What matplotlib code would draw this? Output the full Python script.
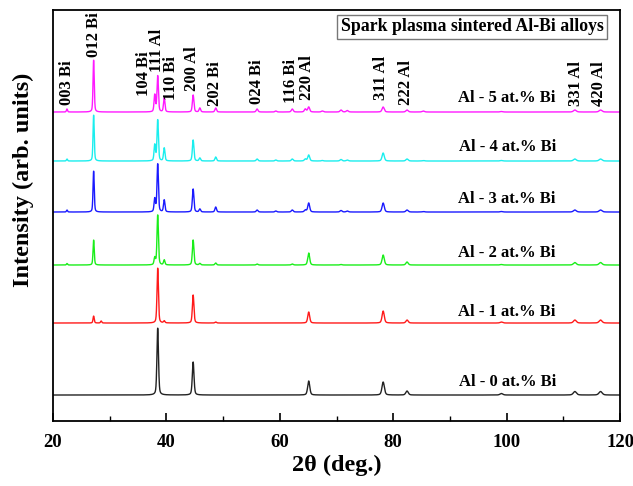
import numpy as np
import matplotlib
matplotlib.use("Agg")
import matplotlib.pyplot as plt

plt.rcParams['font.family'] = ['Liberation Serif', 'DejaVu Serif']
plt.rcParams['font.weight'] = 'bold'

# Reflection positions (2theta, deg)
peak_pos = [22.47, 27.17, 28.5, 37.95, 38.47, 39.62, 44.72, 45.9, 48.7, 56.0, 59.3,
            62.2, 64.5, 65.1, 67.5, 70.8, 71.9, 78.23, 82.44, 85.3, 99.08, 112.04, 116.57]

# Peak heights (arb. units) for each composition, same order as peak_pos
h_0at = [0, 0, 0, 0, 67, 0, 33, 0, 0, 0, 0, 0, 0, 14, 0, 0, 0, 13, 4, 0, 1.5, 3.5, 3.5]
h_1at = [0, 7, 2, 0, 55, 2, 28, 0, 1, 0, 0, 0, 0, 11, 0, 0, 0, 12, 3, 0, 1, 3, 3]
h_2at = [1.5, 25, 0, 7, 50, 5, 25, 1.5, 2, 1, 0, 1, 0, 12, 0, 0.5, 0, 10, 3, 0, 0.5, 2.5, 2.5]
h_3at = [2, 41, 0, 13, 48, 12, 23, 3, 5, 2, 1, 2, 2, 9, 0, 1.5, 1, 9, 2, 0.5, 0.5, 2, 2]
h_4at = [2, 46, 0, 16, 41, 13, 21, 3, 4, 2, 1, 2, 2, 6, 0.5, 1.5, 1, 8, 2, 0.5, 0.5, 2, 2]
h_5at = [3, 52, 0, 17, 36, 14, 17, 4, 4, 3, 1, 3, 3, 5, 1, 2, 1.5, 5, 2, 1, 0.5, 2, 2]

heights = [h_0at, h_1at, h_2at, h_3at, h_4at, h_5at]
offsets = [26, 98, 156, 209, 260, 309]
series_labels = ['Al - 0 at.% Bi', 'Al - 1 at.% Bi', 'Al - 2 at.% Bi',
                 'Al - 3 at.% Bi', 'Al - 4 at.% Bi', 'Al - 5 at.% Bi']
colors = ['#222222', '#ff1a1a', '#1aee1a', '#1a1aff', '#1aeeee', '#ff1aff']
label_lift = [13, 11, 12, 13, 14, 14]
width_scale = [1.1, 1, 1, 1, 1, 1]

# Reflection annotations: text, 2theta of label, bottom of label (arb. units)
ann_text = ['003 Bi', '012 Bi', '104 Bi', '111 Al', '110 Bi', '200 Al', '202 Bi',
            '024 Bi', '116 Bi', '220 Al', '311 Al', '222 Al', '331 Al', '420 Al']
ann_x = [22.4, 27.3, 36.0, 38.3, 40.8, 44.5, 48.6, 56.0, 62.0, 64.8, 77.9, 82.3, 112.2, 116.3]
ann_y = [316, 364, 325, 349, 321, 330, 315, 317, 318, 321, 321, 316, 315, 315]


def pattern(x, hs, wscale=1.0):
    y = np.zeros_like(x)
    for p, h in zip(peak_pos, hs):
        if h <= 0:
            continue
        w = (0.22 + 0.004 * (p - 20)) * wscale
        g = np.exp(-4 * np.log(2) * ((x - p) / w) ** 2)
        lor = 1.0 / (1.0 + 4 * ((x - p) / w) ** 2)
        y += h * (0.6 * g + 0.4 * lor)
    return y


x = np.arange(20, 120.001, 0.02)

fig = plt.figure(figsize=(6.33, 4.86), dpi=100)
ax = fig.add_axes([0.0837, 0.1337, 0.8958, 0.8457])

for hs, off, col, lab, lift, ws in zip(heights, offsets, colors, series_labels,
                                      label_lift, width_scale):
    ax.plot(x, off + pattern(x, hs, ws), color=col, lw=1.0)
    ax.text(100.1, off + lift, lab, ha='center', va='center', fontsize=12, fontweight='bold')

for t, tx, ty in zip(ann_text, ann_x, ann_y):
    ax.text(tx, ty, t, rotation=90, ha='center', va='bottom', fontsize=12, fontweight='bold')

ax.text(0.739, 0.959, 'Spark plasma sintered Al-Bi alloys', transform=ax.transAxes,
        ha='center', va='center', fontsize=12.8, fontweight='bold',
        bbox=dict(boxstyle='square,pad=0.2', fc='white', ec='#777777', lw=1.0))

ax.set_xlim(20, 120)
ax.set_ylim(0, 411)
ax.set_xticks([20, 40, 60, 80, 100, 120])
ax.set_xticks(np.arange(30, 120, 20), minor=True)
ax.set_yticks([])
ax.tick_params(axis='x', which='major', direction='in', length=6, width=1.2,
               labelsize=13.5, pad=9, top=False)
ax.tick_params(axis='x', which='minor', direction='in', length=3.5, width=1.0, top=False)
for lbl in ax.get_xticklabels():
    lbl.set_fontweight('bold')
for s in ax.spines.values():
    s.set_linewidth(1.3)

ax.set_xlabel('2θ (deg.)', fontsize=17.5, fontweight='bold', labelpad=3)
ax.set_ylabel('Intensity (arb. units)', fontsize=17.5, fontweight='bold')
ax.yaxis.set_label_coords(-0.033, 0.586)

fig.savefig('out.png', dpi=100)
